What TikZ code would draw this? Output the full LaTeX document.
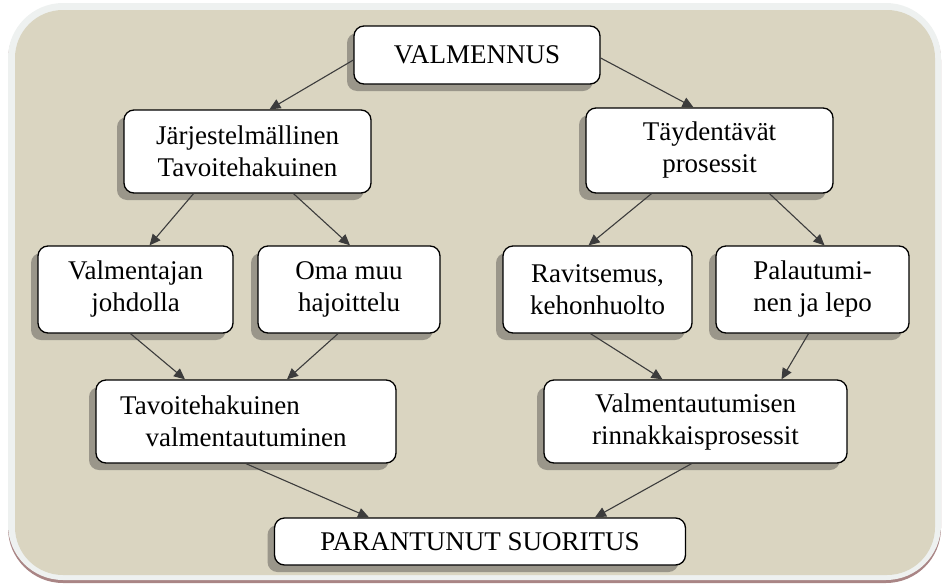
\documentclass[tikz,border=0pt]{standalone}
\usepackage{fontspec}
\setmainfont{Liberation Serif}
\usetikzlibrary{arrows.meta,shadows}

\definecolor{panelfill}{HTML}{DAD5C1}
\definecolor{panelrim}{HTML}{EEF1F0}
\definecolor{panelshade}{HTML}{A98585}
\definecolor{boxshade}{HTML}{9A968A}
\definecolor{linkcol}{HTML}{3C3C3C}

\tikzset{
  stepbox/.style={draw=black, line width=1.3pt, fill=white, rounded corners=10pt,
    align=center, inner sep=0pt,
    font=\fontsize{27}{32}\selectfont,
    drop shadow={shadow xshift=-7pt, shadow yshift=-7pt, fill=boxshade, opacity=1}},
  link/.style={draw=linkcol, line width=1.1pt,
    -{Triangle[length=11pt,width=10pt]}},
}

\begin{document}
\begin{tikzpicture}[x=1pt,y=-1pt]
  \useasboundingbox (0,0) rectangle (942,584);

  % rounded panel behind the chart
  \fill[panelshade, rounded corners=55pt] (8,5) rectangle (941,583);
  \fill[panelrim, rounded corners=55pt] (8,3) rectangle (941,580);
  \fill[panelfill, rounded corners=48pt] (15,10) rectangle (935,575);

  % boxes
  \node[stepbox, minimum width=246pt, minimum height=58pt] (valm) at (477,55) {VALMENNUS};
  \node[stepbox, minimum width=247pt, minimum height=83pt] (jarj) at (247.5,151.5)
    {Järjestelmällinen\\Tavoitehakuinen};
  \node[stepbox, minimum width=247pt, minimum height=85pt] (tayd) at (709.5,150.5)
    {Täydentävät\\prosessit};
  \node[stepbox, minimum width=195pt, minimum height=87pt] (valj) at (135.5,289.5)
    {Valmentajan\\johdolla};
  \node[stepbox, minimum width=182pt, minimum height=87pt] (oma) at (349,289.5)
    {Oma muu\\hajoittelu};
  \node[stepbox, minimum width=189pt, minimum height=87pt] (ravi) at (597.5,289.5)
    {Ravitsemus,\\kehonhuolto};
  \node[stepbox, minimum width=193pt, minimum height=87pt] (pala) at (812.5,289.5)
    {Palautumi-\\nen ja lepo};
  \node[stepbox, minimum width=300pt, minimum height=83pt] (tavo) at (246,421.5)
    {Tavoitehakuinen\hspace*{72pt}\\valmentautuminen};
  \node[stepbox, minimum width=303pt, minimum height=83pt] (rinn) at (695.5,421.5)
    {Valmentautumisen\\rinnakkaisprosessit};
  \node[stepbox, minimum width=411pt, minimum height=47pt] (para) at (480,541.5)
    {PARANTUNUT SUORITUS};

  % connectors
  \draw[link] ([yshift=-5pt]valm.west) -- ([xshift=22pt]jarj.north);
  \draw[link] ([yshift=-3pt]valm.east) -- ([xshift=-16pt]tayd.north);
  \draw[link] ([xshift=-54pt]jarj.south) -- ([xshift=14pt]valj.north);
  \draw[link] ([xshift=46pt]jarj.south) -- ([xshift=1pt]oma.north);
  \draw[link] ([xshift=-58pt]tayd.south) -- ([xshift=-9pt]ravi.north);
  \draw[link] ([xshift=60pt]tayd.south) -- ([xshift=12pt]pala.north);
  \draw[link] ([xshift=-5pt]valj.south) -- ([xshift=-61pt]tavo.north);
  \draw[link] ([xshift=-11pt]oma.south) -- ([xshift=41pt]tavo.north);
  \draw[link] ([xshift=-7pt]ravi.south) -- ([xshift=-33pt]rinn.north);
  \draw[link] ([xshift=-4pt]pala.south) -- ([xshift=86pt]rinn.north);
  \draw[link] (tavo.south) -- ([xshift=-111pt]para.north);
  \draw[link] ([xshift=-4pt]rinn.south) -- ([xshift=115pt]para.north);
\end{tikzpicture}
\end{document}
